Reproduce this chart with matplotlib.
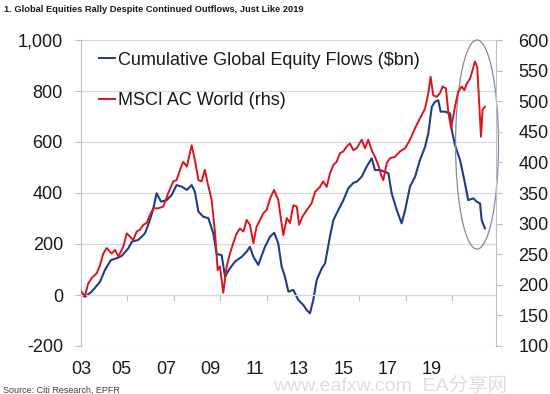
import matplotlib
matplotlib.use('Agg')
import matplotlib.pyplot as plt
from matplotlib.patches import Ellipse
from matplotlib.lines import Line2D

# ---- data ----
flow_dates = [2003.00, 2003.17, 2003.46, 2003.82, 2004.03, 2004.29, 2004.54, 2004.75,
              2005.04, 2005.19, 2005.47, 2005.76, 2005.97, 2006.12, 2006.26, 2006.45,
              2006.69, 2006.91, 2007.12, 2007.34, 2007.56, 2007.77, 2007.91, 2008.06,
              2008.27, 2008.49, 2008.70, 2008.85, 2009.06, 2009.21, 2009.42, 2009.64,
              2009.93, 2010.14, 2010.28, 2010.43, 2010.64, 2010.93, 2011.15, 2011.33,
              2011.50, 2011.65, 2011.79, 2011.94, 2012.15, 2012.37, 2012.58, 2012.73,
              2012.87, 2013.01, 2013.16, 2013.38, 2013.52, 2013.73, 2013.88, 2014.09,
              2014.31, 2014.52, 2014.74, 2014.88, 2015.10, 2015.31, 2015.53, 2015.67,
              2015.89, 2016.10, 2016.25, 2016.39, 2016.61, 2016.82, 2016.97, 2017.18,
              2017.40, 2017.61, 2017.83, 2017.97, 2018.12, 2018.26, 2018.40, 2018.50,
              2018.69, 2018.91, 2018.98, 2019.12, 2019.34, 2019.55, 2019.69, 2019.91,
              2020.06, 2020.20, 2020.27, 2020.41]
flow_values = [5, -7, 13, 52, 98, 137, 144, 153,
               183, 209, 216, 242, 294, 340, 399, 366,
               372, 392, 431, 425, 412, 431, 405, 327,
               307, 301, 242, 160, 157, 72, 105, 131,
               150, 170, 189, 150, 118, 189, 229, 244,
               203, 111, 72, 13, 20, -20, -39, -59,
               -72, -20, 59, 105, 124, 229, 294, 333,
               372, 418, 440, 444, 464, 503, 536, 490,
               490, 483, 477, 399, 333, 281, 333, 425,
               464, 529, 581, 634, 738, 758, 764, 719,
               719, 712, 647, 588, 529, 438, 372, 379,
               366, 359, 294, 261]

msci_dates = [2003.00, 2003.17, 2003.31, 2003.46, 2003.68, 2003.82, 2003.96, 2004.11,
              2004.32, 2004.47, 2004.61, 2004.82, 2004.97, 2005.11, 2005.25, 2005.40,
              2005.54, 2005.69, 2005.83, 2005.97, 2006.12, 2006.33, 2006.55, 2006.76,
              2006.98, 2007.12, 2007.27, 2007.41, 2007.56, 2007.77, 2007.91, 2008.06,
              2008.20, 2008.34, 2008.46, 2008.63, 2008.78, 2008.89, 2008.99, 2009.13,
              2009.28, 2009.42, 2009.56, 2009.71, 2009.85, 2010.00, 2010.14, 2010.28,
              2010.43, 2010.57, 2010.72, 2010.86, 2011.00, 2011.15, 2011.32, 2011.50,
              2011.72, 2011.87, 2012.01, 2012.15, 2012.30, 2012.40, 2012.54, 2012.73,
              2012.94, 2013.09, 2013.30, 2013.44, 2013.59, 2013.73, 2013.88, 2014.02,
              2014.16, 2014.31, 2014.45, 2014.59, 2014.74, 2014.88, 2015.10, 2015.24,
              2015.38, 2015.53, 2015.67, 2015.81, 2015.96, 2016.03, 2016.18, 2016.32,
              2016.53, 2016.75, 2016.97, 2017.18, 2017.40, 2017.61, 2017.83, 2017.97,
              2018.07, 2018.18, 2018.33, 2018.47, 2018.59, 2018.73, 2018.83, 2018.95,
              2019.12, 2019.26, 2019.41, 2019.52, 2019.63, 2019.77, 2019.88, 2019.98,
              2020.08, 2020.24, 2020.31, 2020.41]
msci_values = [189, 182, 202, 211, 219, 232, 251, 260,
               251, 257, 246, 262, 284, 279, 273, 287,
               290, 298, 301, 314, 325, 325, 328, 350,
               369, 371, 388, 401, 393, 428, 404, 371,
               369, 388, 366, 339, 284, 224, 230, 187,
               230, 251, 268, 284, 292, 287, 306, 298,
               268, 295, 306, 317, 322, 341, 355, 339,
               281, 309, 301, 330, 328, 298, 311, 322,
               333, 352, 360, 369, 360, 382, 396, 401,
               415, 418, 426, 431, 420, 423, 437, 423,
               437, 420, 409, 396, 377, 371, 399, 407,
               409, 418, 423, 437, 456, 472, 488, 513,
               540, 510, 507, 513, 524, 521, 483, 456,
               491, 516, 524, 518, 529, 537, 551, 565,
               556, 442, 486, 491]

left_ticks = [-200, 0, 200, 400, 600, 800, 1000]
left_labels = ['-200', '0', '200', '400', '600', '800', '1,000']
right_ticks = [100, 150, 200, 250, 300, 350, 400, 450, 500, 550, 600]
year_ticks = [2003, 2005, 2007, 2009, 2011, 2013, 2015, 2017, 2019]
year_labels = ['03', '05', '07', '09', '11', '13', '15', '17', '19']

series_names = ['Cumulative Global Equity Flows ($bn)', 'MSCI AC World (rhs)']
title = '1. Global Equities Rally Despite Continued Outflows, Just Like 2019'
source = 'Source: Citi Research, EPFR'

BLUE = '#1d3c8a'
RED = '#d9161c'
GRID = '#d9d9d9'
SPINE = '#bfbfbf'
TXT = '#1a1a1a'

plt.rcParams['font.family'] = ['Liberation Sans', 'DejaVu Sans']

W, H = 550, 394
fig = plt.figure(figsize=(W / 100, H / 100), dpi=100)
ax = fig.add_axes([81 / W, 1 - 346 / H, 415 / W, 306 / H])
ax2 = ax.twinx()

ax.set_xlim(2003, 2003 + 415 / 23.2)
ax.set_ylim(-200, 1000)
ax2.set_ylim(100, 600)

ax.plot(flow_dates, flow_values, color=BLUE, lw=1.5, solid_joinstyle='round')
ax2.plot(msci_dates, msci_values, color=RED, lw=1.4, solid_joinstyle='round')

# grid
ax.set_yticks(left_ticks, labels=left_labels)
ax.yaxis.grid(True, color=GRID, lw=0.9)
ax.set_axisbelow(True)
ax.tick_params(axis='y', direction='out', length=4, color=SPINE, labelsize=13,
               labelcolor=TXT, pad=9)

for s in ['top', 'right']:
    ax.spines[s].set_visible(False)
ax.spines['left'].set_color(SPINE)
ax.spines['bottom'].set_position(('data', 0))
ax.spines['bottom'].set_color(GRID)
ax.set_xticks(year_ticks)
ax.tick_params(axis='x', direction='out', length=4, color=SPINE, labelbottom=False)

# label axis at bottom, label positions as in the reference
label_pos = [max(2003.0, 2002.83 + 1.913 * i) for i in range(len(year_labels))]
sec = ax.secondary_xaxis(0)
sec.set_xticks(label_pos, labels=year_labels)
sec.tick_params(length=0, pad=11, labelsize=13, labelcolor=TXT)
sec.spines['bottom'].set_visible(False)

for s in ['top', 'left', 'bottom']:
    ax2.spines[s].set_visible(False)
ax2.spines['right'].set_color(SPINE)
ax2.set_yticks(right_ticks)
ax2.tick_params(axis='y', direction='out', length=4, color=SPINE, labelsize=13,
                labelcolor=TXT, pad=12)

# legend
handles = [Line2D([], [], color=BLUE, lw=1.4), Line2D([], [], color=RED, lw=1.4)]
leg = ax2.legend(handles, series_names, loc='upper left', bbox_to_anchor=(0.025, 0.985),
                 frameon=False, fontsize=13, handlelength=0.9, handletextpad=0.15,
                 labelspacing=1.3, borderaxespad=0)
for t in leg.get_texts():
    t.set_color(TXT)

# highlight ellipse
ax.add_patch(Ellipse((2020.07, 590), 1.85, 820, fill=False, ec='#7d8aa8', lw=0.9,
                     clip_on=False, zorder=5))

fig.text(4 / W, 1 - 10 / H, title, fontsize=6.7, fontweight='bold', va='center',
         family=['Liberation Sans Narrow', 'Liberation Sans', 'DejaVu Sans'], color=TXT)
fig.text(3 / W, 1 - 390 / H, source, fontsize=6.5, va='center', color='#404040',
         family=['Liberation Sans Narrow', 'Liberation Sans', 'DejaVu Sans'])
fig.text(273 / W, 1 - 386 / H, 'www.eafxw.com  EA分享网', fontsize=14, va='center',
         color='#dedede', family=['Liberation Sans', 'Noto Sans CJK SC', 'DejaVu Sans'])

fig.savefig('out.png', dpi=100)
